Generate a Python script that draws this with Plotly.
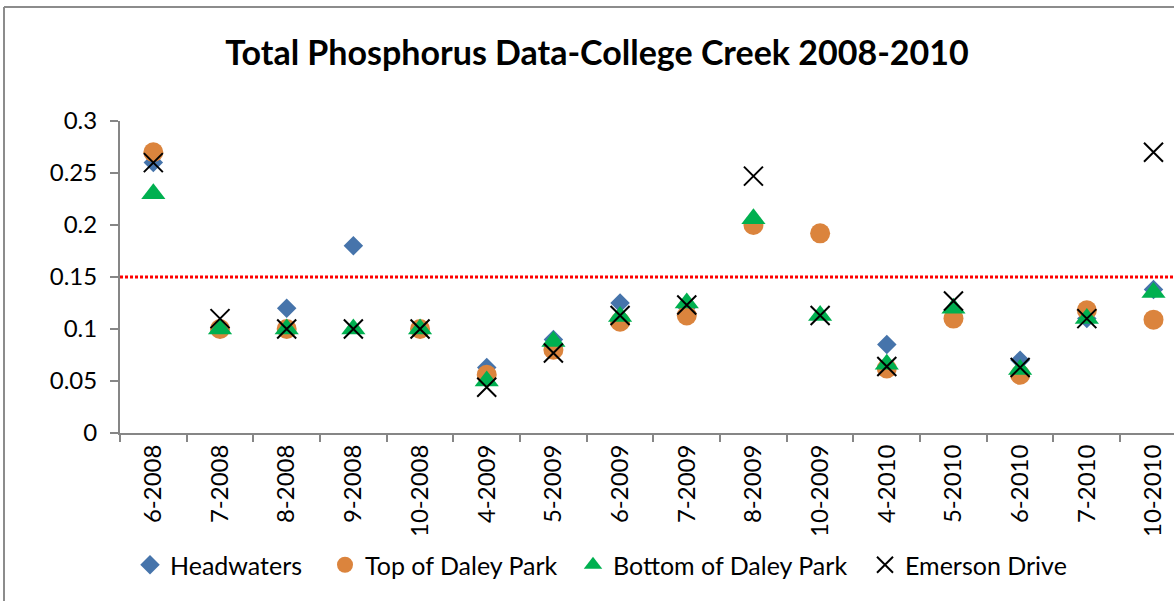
import plotly.graph_objects as go

# sampling dates (month-year)
categories = ['6-2008', '7-2008', '8-2008', '9-2008', '10-2008', '4-2009', '5-2009', '6-2009',
              '7-2009', '8-2009', '10-2009', '4-2010', '5-2010', '6-2010', '7-2010', '10-2010']

headwaters = [0.26, 0.1, 0.12, 0.18, 0.1, 0.063, 0.09, 0.125,
              0.121, None, None, 0.085, None, 0.07, 0.11, 0.138]
top_daley = [0.27, 0.1, 0.1, None, 0.1, 0.056, 0.08, 0.107,
             0.113, 0.2, 0.192, 0.062, 0.11, 0.056, 0.118, 0.109]
bottom_daley = [0.23, 0.1, 0.1, 0.1, 0.1, 0.05, 0.088, 0.112,
                0.125, 0.206, 0.113, 0.066, 0.12, 0.061, 0.11, 0.135]
emerson = [0.26, 0.11, 0.1, 0.1, 0.1, 0.044, 0.077, 0.113,
           0.123, 0.247, 0.113, 0.064, 0.127, 0.063, 0.11, 0.27]

threshold = 0.15

FONT = 'Lato'
axis_grey = '#868686'

# plot area in pixels
plot_l, plot_r, plot_t, plot_b = 120, 1174, 121, 433
def px_x(p):
    return (p - plot_l) / (plot_r - plot_l)
def px_y(p):
    return (plot_b - p) / (plot_b - plot_t)

fig = go.Figure()

fig.add_trace(go.Scatter(x=categories, y=headwaters, name='Headwaters', mode='markers', legend='legend',
                         marker=dict(symbol='diamond', size=15, color='#4674AB')))
fig.add_trace(go.Scatter(x=categories, y=top_daley, name='Top of Daley Park', mode='markers', legend='legend2',
                         marker=dict(symbol='circle', size=20, color='#DB843D')))
fig.add_trace(go.Scatter(x=categories, y=bottom_daley, name='Bottom of Daley Park', mode='markers', legend='legend3',
                         marker=dict(symbol='triangle-up', size=21, color='#00B050')))
fig.add_trace(go.Scatter(x=categories, y=emerson, name='Emerson Drive', mode='markers', legend='legend4',
                         marker=dict(symbol='x-thin', size=19, color='black',
                                     line=dict(width=2, color='black'))))
fig.update_traces(cliponaxis=False)

# red dotted limit line
fig.add_shape(type='line', xref='paper', x0=0, x1=1, yref='y', y0=threshold, y1=threshold,
              line=dict(color='#FF0000', width=3, dash='3px,2px'))

# chart frame (left and top edges visible)
fig.add_shape(type='line', xref='paper', yref='paper', x0=px_x(4), x1=px_x(4), y0=px_y(7), y1=px_y(610),
              line=dict(color='#8C8C8C', width=2))
fig.add_shape(type='line', xref='paper', yref='paper', x0=px_x(4), x1=px_x(1180), y0=px_y(7), y1=px_y(7),
              line=dict(color='#8C8C8C', width=2))

# one legend per series so the spacing follows the original
legend_pos = {'legend': 150, 'legend2': 345, 'legend3': 593, 'legend4': 885}
legends = {}
for key, sx in legend_pos.items():
    legends[key] = dict(x=px_x(sx - 20), xanchor='left', y=px_y(565), yanchor='middle',
                        orientation='h', font=dict(size=25), bgcolor='rgba(0,0,0,0)')

fig.update_layout(
    width=1174, height=601,
    margin=dict(l=plot_l, r=0, t=plot_t, b=601 - plot_b),
    plot_bgcolor='white', paper_bgcolor='white',
    font=dict(family=FONT, color='black', size=24),
    title=dict(text='<b>Total Phosphorus Data-College Creek 2008-2010</b>',
               x=px_x(597), xanchor='center', xref='paper',
               y=1 - 53 / 601, yanchor='middle',
               font=dict(family=FONT, size=34, color='black')),
    showlegend=True,
    **legends,
)

fig.update_xaxes(type='category', range=[-0.5, (plot_r - 153) / 66.7],
                 showline=True, linecolor=axis_grey, linewidth=2,
                 ticks='outside', tickson='boundaries', ticklen=7, tickcolor=axis_grey, tickwidth=2,
                 tickangle=-90, tickfont=dict(size=24), showgrid=False, zeroline=False)
fig.update_yaxes(range=[0, 0.3], dtick=0.05, tick0=0,
                 showline=True, linecolor=axis_grey, linewidth=2,
                 ticks='outside', ticklen=8, tickcolor=axis_grey, tickwidth=2, ticklabelstandoff=8,
                 tickfont=dict(size=24), showgrid=False, zeroline=False)

fig.write_html('out.html', config={'displayModeBar': False},
               post_script="document.body.style.margin='0';")
